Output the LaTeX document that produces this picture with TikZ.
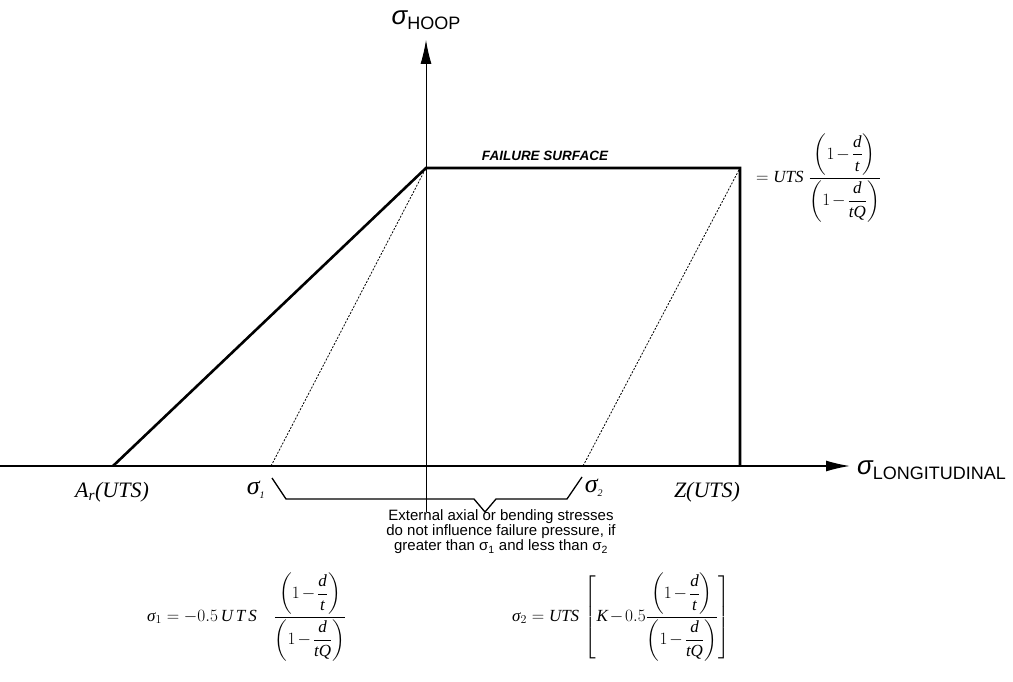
\documentclass[tikz,border=0pt]{standalone}
\usepackage{amsmath}
\usepackage{fontspec}
\setmainfont{Liberation Serif}
\newfontfamily\sansf{Liberation Sans}
\usetikzlibrary{arrows.meta}
\newcommand{\mi}[1]{\textit{#1}}
\newcommand{\mn}{\mkern-2mu-\mkern-2mu}
\newcommand{\dfr}[2]{\dfrac{\left(1\mn\dfrac{\mi{d}}{\mi{#1}}\right)}{\left(1\mn\dfrac{\mi{d}}{\mi{#2}}\right)}}
\begin{document}
\begin{tikzpicture}[x=1pt,y=-1pt,
  axis/.style={line width=1.6pt},
  vaxis/.style={line width=0.9pt},
  surf/.style={line width=2.6pt},
  dotl/.style={line width=0.8pt,dash pattern=on 2pt off 1.5pt},
  brace/.style={line width=1.3pt},
  tip/.style={-{Latex[length=24pt,width=11pt]}},
  lbl/.style={inner sep=0pt,font=\fontsize{22}{22}\selectfont\itshape},
  frm/.style={inner sep=0pt,font=\fontsize{17}{20}\selectfont}]
\useasboundingbox (0,0) rectangle (1013,682);
% points
\coordinate (O) at (426,466);
\coordinate (T) at (426,168);
\coordinate (R) at (740,168);
\coordinate (RB) at (740,466);
\coordinate (A) at (113,466);
\coordinate (S1) at (271,466);
\coordinate (S2) at (583,466);
\coordinate (X0) at (0,466);
\coordinate (X1) at (850,466);
\coordinate (Y0) at (426,512);
\coordinate (Y1) at (426,40);
\coordinate (B1) at (272,478);
\coordinate (B2) at (286,499);
\coordinate (B3) at (474,499);
\coordinate (B4) at (485,512);
\coordinate (B5) at (496,499);
\coordinate (B6) at (567,499);
\coordinate (B7) at (582,477);
% axes
\draw[axis,tip] (X0) -- (X1);
\draw[vaxis,tip] (Y0) -- (Y1);
% failure surface
\draw[surf] (A) -- (T) -- (R) -- (RB);
\draw[dotl] (S1) -- (T);
\draw[dotl] (S2) -- (R);
% brace
\draw[brace] (B1) -- (B2) -- (B3) -- (B4) -- (B5) -- (B6) -- (B7);
% labels
\node (hoop) at (426,20) {{\sansf\fontsize{26}{26}\selectfont\itshape σ}\raisebox{-5pt}{\sansf\fontsize{18}{18}\selectfont HOOP}};
\node[anchor=west,inner sep=0pt] (long) at (857,470) {{\sansf\fontsize{26}{26}\selectfont\itshape σ}\raisebox{-5pt}{\sansf\fontsize{18}{18}\selectfont LONGITUDINAL}};
\node[lbl] (ar) at (112,492) {A\textsubscript{r}(UTS)};
\node[lbl] (z) at (707,492) {Z(UTS)};
\node[inner sep=0pt,font=\fontsize{26}{26}\selectfont\itshape] (s1) at (256,490) {σ\textsubscript{\fontsize{10}{10}\selectfont 1}};
\node[inner sep=0pt,font=\fontsize{26}{26}\selectfont\itshape] (s2) at (594,488) {σ\textsubscript{\fontsize{10}{10}\selectfont 2}};
\node[inner sep=0pt,font=\sansf\bfseries\itshape\fontsize{13.5}{14}\selectfont] (fs) at (545,156) {FAILURE SURFACE};
\node[align=center,inner sep=0pt,font=\sansf\fontsize{15}{15}\selectfont] (ext) at (501,532)
  {External axial or bending stresses\\do not influence failure pressure, if\\greater than σ\textsubscript{1} and less than σ\textsubscript{2}};
\node[frm,anchor=west] (top) at (756,178)
  {$=\mi{UTS}\;\dfr{t}{tQ}$};
\node[frm,anchor=west] (f1) at (147,617)
  {$\mi{σ}_{1}=-0.5\,\mi{U\,T\,S}\quad\dfr{t}{tQ}$};
\node[frm,anchor=west] (f2) at (512,617)
  {$\mi{σ}_{2}=\mi{UTS}\,\left[\mi{K}\mn0.5\dfr{t}{tQ}\right]$};
\end{tikzpicture}
\end{document}
